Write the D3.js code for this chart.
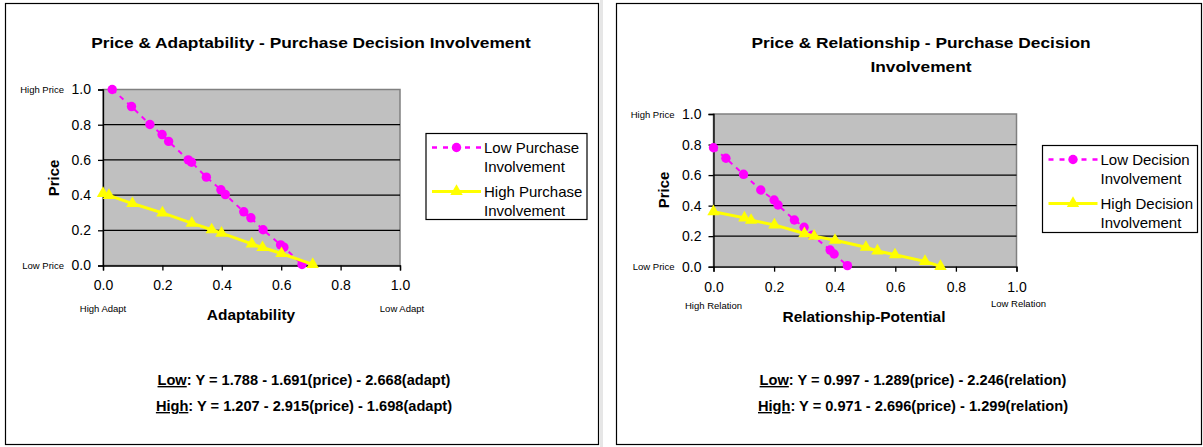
<!DOCTYPE html>
<html>
<head>
<meta charset="utf-8">
<script src="https://cdn.jsdelivr.net/npm/d3@7"></script>
<style>
  html, body { margin: 0; padding: 0; background: #fff; }
  svg { display: block; font-family: "Liberation Sans", Arial, sans-serif; }
</style>
</head>
<body>
<svg id="chart" width="1203" height="447"></svg>
<script>
// Tick values shared by both panels
const tickValues = [0, 0.2, 0.4, 0.6, 0.8, 1.0];

// Panel 1: Price & Adaptability
const adaptLowX  = [0.031, 0.096, 0.158, 0.199, 0.221, 0.287, 0.298, 0.348, 0.397, 0.412, 0.474, 0.498, 0.539, 0.598, 0.609, 0.670];
const adaptLowY  = [1.000, 0.903, 0.801, 0.744, 0.705, 0.600, 0.587, 0.502, 0.430, 0.403, 0.305, 0.271, 0.203, 0.117, 0.104, 0.006];
const adaptHighX = [0.000, 0.020, 0.099, 0.200, 0.299, 0.366, 0.399, 0.501, 0.537, 0.601, 0.706];
const adaptHighY = [0.410, 0.398, 0.352, 0.299, 0.241, 0.203, 0.184, 0.123, 0.102, 0.068, 0.006];

// Panel 2: Price & Relationship
const relLowX  = [0.000, 0.041, 0.099, 0.156, 0.200, 0.213, 0.267, 0.299, 0.326, 0.385, 0.398, 0.442];
const relLowY  = [0.779, 0.710, 0.605, 0.502, 0.437, 0.404, 0.306, 0.258, 0.207, 0.109, 0.083, 0.007];
const relHighX = [0.000, 0.102, 0.124, 0.201, 0.300, 0.332, 0.401, 0.503, 0.541, 0.599, 0.698, 0.749];
const relHighY = [0.360, 0.320, 0.304, 0.274, 0.217, 0.200, 0.173, 0.127, 0.103, 0.078, 0.035, 0.002];

const LOW_COLOR = "#FF00FF";
const HIGH_COLOR = "#FFFF00";
const FONT = "'Liberation Sans', Arial, sans-serif";

const svg = d3.select("#chart");

// Outer frames
svg.append("rect").attr("x", 600).attr("y", 0).attr("width", 3).attr("height", 447).attr("fill", "#e6e6e6");
svg.append("rect").attr("x", 5.5).attr("y", 3.5).attr("width", 593).attr("height", 441)
  .attr("fill", "#fff").attr("stroke", "#000").attr("stroke-width", 1.2);
svg.append("rect").attr("x", 616.5).attr("y", 3.5).attr("width", 585).attr("height", 441)
  .attr("fill", "#fff").attr("stroke", "#000").attr("stroke-width", 1.2);

// Text drawn with a horizontal stretch factor (the chart's type is set slightly wide)
function wideText(g, tx, ty, txt, opts) {
  const t = g.append("text")
    .attr("transform", `translate(${tx},${ty}) scale(${opts.sx || 1},1)`)
    .attr("text-anchor", opts.anchor || "middle")
    .style("font-size", opts.size + "px")
    .style("font-weight", opts.bold ? "bold" : "normal")
    .style("font-family", FONT)
    .attr("fill", "#000");
  if (txt !== null) t.text(txt);
  return t;
}

function drawPanel(cfg) {
  const g = svg.append("g");
  const x = d3.scaleLinear().domain([0, 1]).range([cfg.left, cfg.right]);
  const y = d3.scaleLinear().domain([0, 1]).range([cfg.bottom, cfg.top]);

  // Plot area
  g.append("rect")
    .attr("x", cfg.left).attr("y", cfg.top)
    .attr("width", cfg.right - cfg.left).attr("height", cfg.bottom - cfg.top)
    .attr("fill", "#C0C0C0").attr("stroke", "#808080").attr("stroke-width", 1.5);

  // Horizontal gridlines
  g.selectAll(".grid").data(tickValues.filter(v => v > 0 && v < 1)).join("line")
    .attr("x1", cfg.left).attr("x2", cfg.right)
    .attr("y1", d => y(d)).attr("y2", d => y(d))
    .attr("stroke", "#000").attr("stroke-width", 1.3);

  // Axes
  const yAxis = d3.axisLeft(y).tickValues(tickValues).tickFormat(d3.format(".1f")).tickSize(5).tickPadding(7);
  const xAxis = d3.axisBottom(x).tickValues(tickValues).tickFormat(d3.format(".1f")).tickSize(5).tickPadding(10);
  const ya = g.append("g").attr("transform", `translate(${cfg.left},0)`).call(yAxis);
  const xa = g.append("g").attr("transform", `translate(0,${cfg.bottom})`).call(xAxis);
  [ya, xa].forEach(a => {
    a.select(".domain").attr("stroke", "#000").attr("stroke-width", 1.3);
    a.selectAll(".tick line").attr("stroke", "#000").attr("stroke-width", 1.3);
    a.selectAll(".tick text").attr("fill", "#000").style("font-size", "14px").style("font-family", FONT);
  });

  const lowPts = cfg.lowX.map((v, i) => [v, cfg.lowY[i]]);
  const highPts = cfg.highX.map((v, i) => [v, cfg.highY[i]]);
  const line = d3.line().x(d => x(d[0])).y(d => y(d[1]));

  // Series: low involvement (dashed, circles)
  g.append("path").datum(lowPts).attr("d", line)
    .attr("fill", "none").attr("stroke", LOW_COLOR).attr("stroke-width", 2).attr("stroke-dasharray", "5,5");
  g.selectAll(".low").data(lowPts).join("circle")
    .attr("cx", d => x(d[0])).attr("cy", d => y(d[1])).attr("r", 4.7).attr("fill", LOW_COLOR);

  // Series: high involvement (solid, triangles)
  g.append("path").datum(highPts).attr("d", line)
    .attr("fill", "none").attr("stroke", HIGH_COLOR).attr("stroke-width", 3);
  const tri = d3.symbol().type(d3.symbolTriangle).size(66);
  g.selectAll(".high").data(highPts).join("path")
    .attr("d", tri).attr("transform", d => `translate(${x(d[0])},${y(d[1])})`).attr("fill", HIGH_COLOR);

  // Small end labels
  wideText(g, cfg.left - 39, cfg.top + 3.5, "High Price", { size: 9.5, anchor: "end" });
  wideText(g, cfg.left - 39, cfg.bottom + 3.5, "Low Price", { size: 9.5, anchor: "end" });
  wideText(g, cfg.left, cfg.bottom + cfg.xEndDy, cfg.xLowLabel, { size: 9.5 });
  wideText(g, cfg.right + 2, cfg.bottom + cfg.xEndDy2, cfg.xHighLabel, { size: 9.5 });

  // Axis titles
  wideText(g, cfg.xTitleX, cfg.xTitleY, cfg.xTitle, { size: 15, bold: true, sx: 1.03 });
  g.append("text").attr("transform", `translate(${cfg.yTitleX},${cfg.yTitleY}) rotate(-90)`)
    .attr("text-anchor", "middle").style("font-size", "15px").style("font-weight", "bold")
    .style("font-family", FONT).text("Price");

  // Chart title
  cfg.title.forEach((t, i) => {
    wideText(g, cfg.titleX, 48 + i * 24, t, { size: 14, bold: true, sx: 1.24 });
  });

  // Legend
  const lg = g.append("g");
  lg.append("rect").attr("x", cfg.legX).attr("y", cfg.legY).attr("width", cfg.legW).attr("height", cfg.legH)
    .attr("fill", "#fff").attr("stroke", "#000").attr("stroke-width", 1.2);
  const sx0 = cfg.legX + 6, sx1 = cfg.legX + 55, sxm = (sx0 + sx1) / 2;
  const ly1 = cfg.legY + 14, ly2 = cfg.legY + 58;
  lg.append("line").attr("x1", sx0).attr("x2", sx1).attr("y1", ly1).attr("y2", ly1)
    .attr("stroke", LOW_COLOR).attr("stroke-width", 2.5).attr("stroke-dasharray", "5,6");
  lg.append("circle").attr("cx", sxm).attr("cy", ly1).attr("r", 4.7).attr("fill", LOW_COLOR);
  lg.append("line").attr("x1", sx0).attr("x2", sx1).attr("y1", ly2).attr("y2", ly2)
    .attr("stroke", HIGH_COLOR).attr("stroke-width", 3);
  lg.append("path").attr("d", tri).attr("transform", `translate(${sxm},${ly2})`).attr("fill", HIGH_COLOR);
  const legText = (ty, txt) => wideText(lg, sx1 + 3, ty, txt, { size: 15, anchor: "start" });
  legText(ly1 + 5, cfg.legLow);
  legText(ly1 + 24, "Involvement");
  legText(ly2 + 5, cfg.legHigh);
  legText(ly2 + 24, "Involvement");

  // Regression equations
  cfg.eqs.forEach((e, i) => {
    const t = wideText(g, cfg.eqX, 385 + i * 26, null, { size: 14, bold: true, sx: 1.045 });
    t.append("tspan").attr("text-decoration", "underline").text(e[0]);
    t.append("tspan").text(e[1]);
  });
}

drawPanel({
  left: 103, right: 400, top: 89.5, bottom: 265.5,
  lowX: adaptLowX, lowY: adaptLowY, highX: adaptHighX, highY: adaptHighY,
  xLowLabel: "High Adapt", xHighLabel: "Low Adapt", xEndDy: 46, xEndDy2: 46,
  xTitle: "Adaptability", xTitleX: 251, xTitleY: 320,
  yTitleX: 59, yTitleY: 178,
  title: ["Price & Adaptability - Purchase Decision Involvement"], titleX: 311,
  legX: 426, legY: 133.5, legW: 161, legH: 86,
  legLow: "Low Purchase", legHigh: "High Purchase",
  eqs: [["Low", ": Y = 1.788 - 1.691(price) - 2.668(adapt)"], ["High", ": Y = 1.207 - 2.915(price) - 1.698(adapt)"]],
  eqX: 304
});

drawPanel({
  left: 713.5, right: 1016.5, top: 114, bottom: 266.7,
  lowX: relLowX, lowY: relLowY, highX: relHighX, highY: relHighY,
  xLowLabel: "High Relation", xHighLabel: "Low Relation", xEndDy: 42, xEndDy2: 40,
  xTitle: "Relationship-Potential", xTitleX: 864, xTitleY: 322,
  yTitleX: 669, yTitleY: 190,
  title: ["Price & Relationship - Purchase Decision", "Involvement"], titleX: 921,
  legX: 1042.5, legY: 145.5, legW: 155, legH: 87,
  legLow: "Low Decision", legHigh: "High Decision",
  eqs: [["Low", ": Y = 0.997 - 1.289(price) - 2.246(relation)"], ["High", ": Y = 0.971 - 2.696(price) - 1.299(relation)"]],
  eqX: 913
});
</script>
</body>
</html>
